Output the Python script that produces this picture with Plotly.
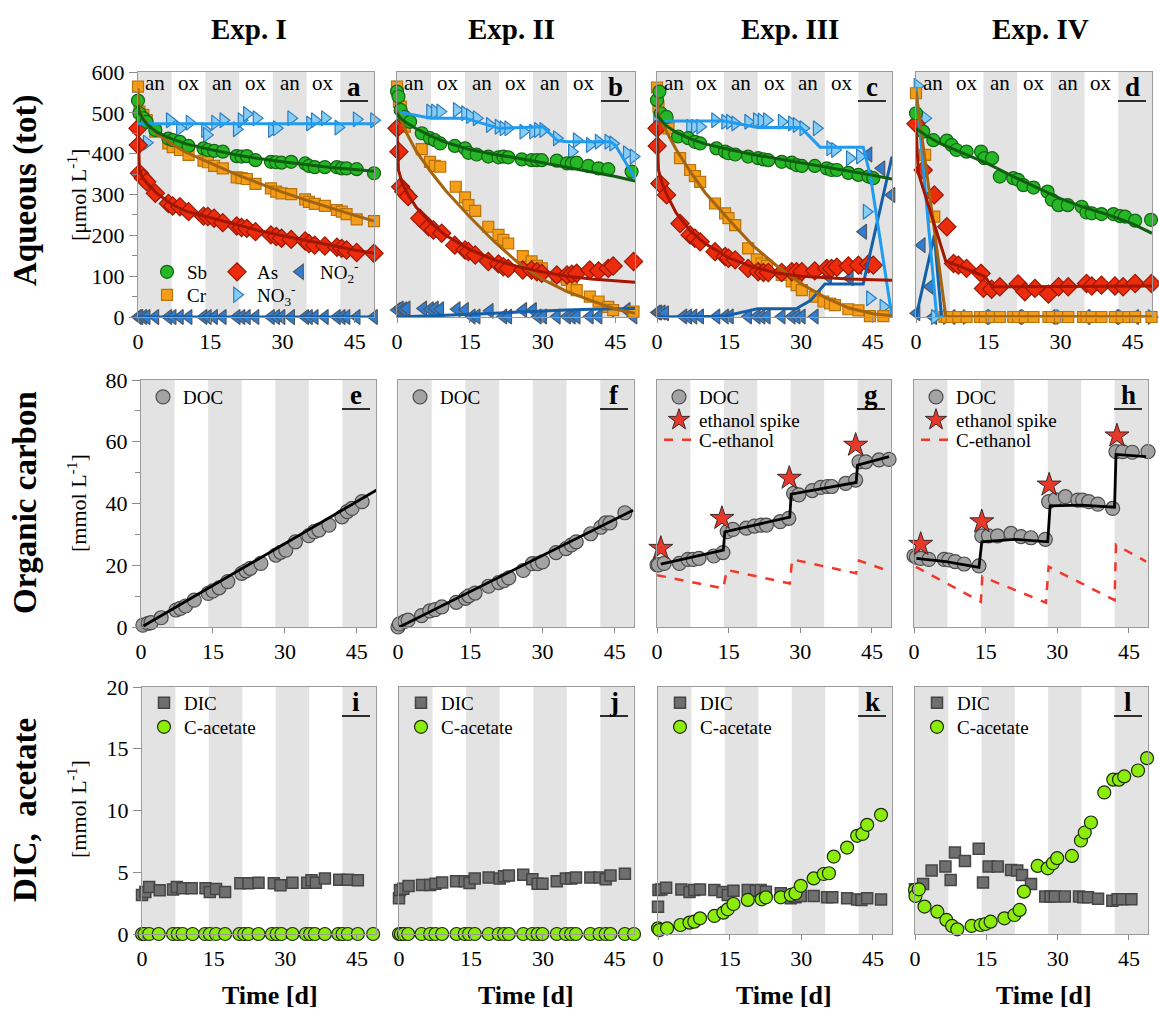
import plotly.graph_objects as go

W, H = 1159, 1011
SERIF = "Liberation Serif, Times New Roman, serif"

# ------------------------------------------------------------------ labels
EXPERIMENTS = ["Exp. I", "Exp. II", "Exp. III", "Exp. IV"]
PANEL_LETTERS = list("abcdefghijkl")
ROW_TITLES = ["Aqueous (tot)", "Organic carbon", "DIC,\u00a0 acetate"]
ROW_UNITS = ["[μmol L<sup>-1</sup>]", "[mmol L<sup>-1</sup>]", "[mmol L<sup>-1</sup>]"]
PHASES = [("an", 0, 7), ("ox", 7, 14), ("an", 14, 21), ("ox", 21, 28),
          ("an", 28, 35), ("ox", 35, 42), ("an", 42, 49)]
X_TICKS = [0, 15, 30, 45]
Y_RANGES = [(0, 600), (0, 80), (0, 20)]
Y_DTICK = [100, 20, 5]

# ------------------------------------------------------------------ Exp I aqueous (a)
t_a = [0, 0.3, 1.1, 1.8, 3.6, 6.3, 7.2, 8.7, 10.5, 13.6, 14.5, 15.8, 17.6, 20.5, 21.5,
       22.6, 24.4, 27.6, 28.7, 29.8, 31.8, 34.7, 35.5, 36.7, 38.8, 41.3, 42.3, 43.3, 45.4, 49]
sb_a = [530, 499, 487, 478, 458, 437, 433, 429, 419, 413, 409, 407, 405, 394, 393,
        394, 384, 380, 379, 378, 380, 376, 370, 367, 367, 367, 364, 364, 362, 352]
cr_a = [564, 503, 495, 482, 454, 425, 416, 409, 397, 383, 379, 370, 364, 342, 340,
        338, 326, 315, 307, 303, 301, 288, 282, 277, 272, 262, 258, 252, 239, 235]
t_as_a = [0, 0.05, 0.3, 1.1, 1.8, 3.6, 6.3, 7.2, 8.7, 10.5, 13.6, 14.5, 15.8, 17.6, 20.5, 21.5,
          22.6, 24.4, 27.6, 28.7, 29.8, 31.8, 34.7, 35.5, 36.7, 38.8, 41.3, 42.3, 43.3, 45.4, 49]
as_a = [462, 421, 352, 340, 331, 303, 278, 272, 270, 258, 247, 246, 242, 231, 223, 219,
        217, 209, 201, 197, 193, 190, 186, 180, 176, 174, 171, 168, 164, 158, 156]
t_no3_a = [0.3, 1.8, 6.6, 8.7, 10.7, 13.9, 14.3, 16, 17.7, 20.5, 21.5, 22.6, 24.6, 27.8, 28.8,
           31.8, 35.7, 36.7, 38.8, 41.6, 45.4, 49]
no3_a = [487, 427, 482, 462, 476, 458, 446, 476, 482, 460, 482, 497, 487, 458, 462,
         487, 474, 482, 487, 464, 484, 482]
no2_a = [0, 0, 0, 0, 0, 0, 0, 0, 0, 0, 0, 0, 0, 0, 0,
         0, 0, 0, 0, 0, 0, 0, 0, 0, 0, 0, 0, 0, 0, 0]
fit_t = [0, 0.3, 1, 2, 4, 7, 10, 15, 20, 25, 30, 35, 40, 45, 49]
sb_fit_a = [520, 500, 485, 470, 452, 436, 424, 410, 398, 388, 380, 373, 366, 361, 357]
cr_fit_a = [560, 505, 488, 472, 449, 424, 403, 377, 351, 328, 306, 286, 267, 249, 235]
as_fit_a = [470, 358, 340, 326, 302, 276, 259, 243, 227, 212, 199, 187, 175, 164, 156]
no3_fit_a_t = [0, 49]
no3_fit_a = [473, 473]
no2_fit_a_t = [0, 49]
no2_fit_a = [0, 0]

# ------------------------------------------------------------------ Exp II aqueous (b)
t_sb_b = [0, 0.3, 0.75, 1.6, 2.7, 5.1, 6.8, 7.8, 8.9, 11.9, 14, 14.7, 16.4, 18.8, 20.9,
          21.9, 22.9, 25.7, 27.7, 28.8, 29.8, 32.9, 35, 36, 37, 39.4, 41.5, 43.5, 48.3]
sb_b = [552, 540, 507, 490, 478, 450, 438, 433, 425, 419, 413, 402, 398, 393, 391,
        393, 391, 386, 384, 384, 384, 383, 376, 376, 378, 370, 364, 362, 356]
t_cr_b = [0, 0.4, 0.8, 1.6, 5.1, 6.8, 7.8, 8.9, 12.1, 14, 14.7, 16.1, 18.8, 20.9, 21.9,
          22.9, 25.9, 27.7, 28.8, 29.8, 32.9, 35, 36, 37, 39.7, 41.5, 43.5, 44.5, 48.7]
cr_b = [564, 527, 515, 466, 411, 380, 370, 368, 319, 293, 274, 260, 221, 201, 189,
        180, 149, 136, 125, 119, 99, 91, 74, 66, 50, 38, 25, 17, 13]
t_as_b = [0, 0.4, 0.75, 1.4, 2.3, 4.7, 6.5, 7.5, 9.2, 11.9, 14, 14.7, 16.1, 18.8, 20.9,
          21.9, 22.9, 25.9, 27.7, 28.8, 29.8, 32.9, 35, 36, 37, 39.7, 41.5, 43.5, 44.5, 48.7]
as_b = [462, 405, 319, 307, 295, 242, 221, 213, 205, 176, 164, 160, 152, 136, 130,
        123, 119, 115, 115, 111, 107, 103, 103, 105, 107, 115, 113, 119, 125, 136]
t_no3_b = [0, 0.6, 6.8, 7.8, 8.9, 12.3, 14, 15, 16.4, 19.1, 20.9, 21.9, 22.9, 26, 28,
           29, 30.1, 32.9, 36, 37, 39.7, 41.5, 43.5, 44.5, 47.3, 48.7]
no3_b = [560, 499, 503, 503, 503, 507, 499, 492, 487, 470, 466, 462, 462, 454, 454,
         458, 458, 438, 405, 433, 421, 429, 429, 425, 401, 393]
t_no2_b = [0, 0.6, 1.3, 2, 5.4, 6.8, 7.8, 8.9, 12.3, 14, 15.4, 16.4, 19.1, 21.9, 22.9,
           26, 28, 29, 30.1, 32.9, 35, 36, 37, 39.7, 41.5, 43.9, 47.3, 48.7]
no2_b = [17, 21, 19, 21, 21, 19, 21, 19, 19, 17, 1, 1, 15, 1, 1,
         17, 17, 1, 1, 1, 1, 1, 1, 1, 1, 19, 17, 1]
sb_fit_b = [500, 492, 484, 475, 461, 443, 428, 410, 398, 389, 378, 367, 355, 344, 333]
cr_fit_b = [505, 497, 478, 450, 405, 355, 310, 245, 185, 132, 92, 62, 40, 19, 9]
as_fit_b = [470, 360, 330, 305, 268, 230, 200, 165, 140, 123, 110, 100, 93, 88, 85]
no2_fit_b = [0, 0.2, 0.5, 1, 2, 3, 4, 6, 9, 12, 15, 17, 19, 20, 21]
no3_fit_b_t = [0, 7, 14, 16.4, 21, 30, 33, 35, 44, 45, 49]
no3_fit_b = [503, 487, 487, 478, 462, 466, 432, 429, 429, 420, 340]

# ------------------------------------------------------------------ Exp III aqueous (c)
t_sb_c = [0, 0.5, 0.8, 2, 4.4, 6.5, 7.9, 9, 12.4, 14.2, 14.9, 16.3, 19, 21.1, 22.2,
          23.2, 26, 28.1, 29.1, 30.2, 32.9, 35.4, 36.4, 37.5, 39.9, 42, 44.1, 45.1, 49.3]
sb_c = [531, 552, 499, 490, 442, 438, 429, 425, 413, 405, 401, 398, 393, 389, 386,
        384, 380, 378, 372, 370, 370, 364, 360, 360, 353, 348, 344, 340, 334]
t_cr_c = [0, 0.3, 1.3, 2.4, 4.8, 6.9, 7.9, 9, 12.1, 14.2, 14.9, 16.3, 19, 20.8, 21.8,
          22.9, 26, 28.1, 29.1, 30.2, 32.9, 34.7, 36.1, 37.1, 39.9, 42, 44.4, 47.2, 49.3]
cr_c = [562, 515, 470, 462, 389, 360, 345, 331, 278, 254, 242, 225, 168, 141, 131,
        125, 103, 87, 78, 66, 50, 38, 33, 29, 19, 16, 2, 2, 1]
t_as_c = [0, 0.05, 0.6, 2, 4.8, 6.9, 7.9, 9, 12.1, 14.2, 14.9, 16.3, 19, 21.1, 22.2,
          23.2, 26, 28.1, 29.1, 30.2, 32.9, 35.4, 36.4, 37.5, 39.9, 42, 44.1, 45.1, 49.3]
as_c = [462, 419, 327, 299, 229, 201, 193, 184, 160, 148, 144, 140, 119, 111, 109,
        109, 109, 111, 111, 111, 113, 119, 119, 122, 125, 127, 130, 127, 130]
t_no3_c = [0, 0.6, 2.4, 6.9, 7.9, 9, 12.1, 14.2, 15.2, 16.3, 19, 20.8, 21.8, 22.9, 26,
           28.1, 29.1, 30.5, 33.3, 36.1, 37.1, 40.2, 42.3, 43.7, 44.4, 47.2, 49.3]
no3_c = [495, 478, 478, 466, 466, 466, 482, 478, 478, 474, 478, 482, 481, 482, 478,
         474, 470, 462, 462, 413, 409, 389, 393, 258, 46, 25, 29]
t_no2_c = [0, 0.3, 1, 1.7, 5.5, 6.5, 7.6, 9, 12.4, 14.2, 15.2, 19, 20.8, 21.8, 22.9,
           26, 28.1, 29.1, 30.2, 32.9, 35.7, 40.2, 42, 43, 44.1, 46.8, 48.9]
no2_c = [11, 11, 11, 9, 1, 1, 1, 1, 1, 1, 1, 1, 1, 1, 1,
         1, 1, 1, 1, 1, 99, 95, 123, 209, 398, 364, 299]
sb_fit_c = [500, 490, 480, 468, 452, 436, 424, 410, 398, 388, 378, 368, 357, 347, 338]
cr_fit_c = [540, 500, 475, 452, 410, 355, 305, 238, 175, 125, 82, 48, 22, 8, 3]
as_fit_c = [470, 360, 330, 300, 255, 210, 180, 145, 122, 108, 100, 96, 93, 91, 90]
no3_fit_c_t = [0, 1, 14, 21, 30, 34, 43, 44.5, 49]
no3_fit_c = [487, 480, 480, 464, 464, 416, 416, 345, 0]
no2_fit_c_t = [0, 14, 21, 29, 32, 35, 43, 49]
no2_fit_c = [0, 2, 20, 20, 40, 81, 81, 393]

# ------------------------------------------------------------------ Exp IV aqueous (d)
t_sb_d = [0, 1.5, 3.6, 6.4, 7.4, 8.4, 10.5, 13.5, 14.2, 15.8, 17.4, 20.2, 21.2, 22.3, 24.4,
          27.3, 28.2, 29.6, 31.5, 34.4, 35.4, 36.5, 38.5, 41, 42.4, 43.4, 45.5, 48.8]
sb_d = [499, 454, 433, 432, 421, 409, 405, 405, 389, 389, 344, 340, 336, 323, 317,
        307, 287, 274, 274, 270, 256, 254, 252, 252, 247, 246, 236, 238]
t_cr_d = [0, 1.9, 3.8, 5.9, 6.4, 7.4, 8.8, 10.5, 13.3, 14.3, 15.7, 17.4, 20.2, 21.2, 22.6,
          24.4, 27.5, 28.2, 29.9, 31.6, 34.7, 35.4, 36.5, 38.5, 41.3, 42.7, 44.1, 45.5, 48.9]
cr_d = [548, 397, 246, 0, 0, 0, 0, 0, 0, 0, 0, 0, 0, 0, 0,
        0, 0, 0, 0, 0, 0, 0, 0, 0, 0, 0, 0, 0, 0]
t_as_d = [0, 1.5, 3.8, 6.4, 7.8, 8.8, 10.5, 13.5, 14, 15.7, 17.4, 21.2, 22.6, 24.7, 27.5,
          29.6, 31.6, 35.4, 36.5, 38.5, 41.3, 43, 45.5, 48.9]
as_d = [473, 360, 299, 221, 131, 127, 119, 107, 70, 68, 74, 81, 62, 70, 56,
        74, 74, 82, 76, 78, 76, 74, 82, 82]
t_no3_d = [0.3, 1.9, 3.9, 6.4, 10.5, 15.7, 22.6, 29.9, 36.5, 42.7, 48.9]
no3_d = [566, 487, 0, 0, 0, 0, 0, 0, 0, 0, 0]
t_no2_d = [0.1, 1.2, 2.9, 3.6, 7.4, 14.3, 21.2, 28.2, 35.4, 41.3, 45.5]
no2_d = [9, 176, 74, 0, 0, 0, 0, 0, 0, 0, 0]
sb_fit_d_t = [0, 2, 5, 10, 15, 20, 25, 30, 35, 40, 45, 49]
sb_fit_d = [462, 445, 425, 400, 375, 345, 318, 290, 268, 250, 228, 205]
cr_fit_d_t = [0, 6.2, 49]
cr_fit_d = [552, 0, 0]
as_fit_d_t = [0, 0.5, 6.2, 8.5, 14.3, 15.8, 49]
as_fit_d = [462, 352, 136, 127, 99, 74, 76]
no3_fit_d_t = [0, 4.3, 49]
no3_fit_d = [564, 0, 0]
no2_fit_d_t = [0, 3.8, 5.3, 49]
no2_fit_d = [0, 200, 0, 0]

# ------------------------------------------------------------------ organic carbon (e-h)
t_doc_e = [0.4, 1.5, 2.1, 4.2, 7.3, 8.2, 9.3, 11.1, 14, 15, 16.3, 18.1, 21, 21.9, 22.8,
           25, 28.1, 29.1, 30.2, 32.2, 35, 36.1, 37.1, 39.2, 41.9, 43, 44, 46.1, 49.2]
doc_e = [0.6, 1.2, 1.4, 3, 5.5, 6, 6.8, 8.7, 10.9, 11.7, 12.7, 14.7, 17.4, 18.2, 19,
         20.6, 23.3, 24.2, 24.9, 27.6, 29.6, 30.9, 31.4, 33, 35.7, 37.4, 38.4, 40.6, 44.6]
doc_fit_e_t = [0.5, 49.2]
doc_fit_e = [0.3, 44.4]

t_doc_f = [0, 0.3, 1.4, 2.1, 4.9, 6.6, 7.7, 9.1, 12.1, 14, 14.7, 16, 18.8, 20.9, 22,
           23, 26, 27.9, 29, 30, 32.8, 34.9, 36, 37, 40, 42.1, 43.1, 44, 47.1, 49.1]
doc_f = [0, 1, 1.8, 2.2, 3.7, 5.2, 5.6, 6.5, 8, 9.3, 10.1, 11, 13.2, 14.4, 15,
         15.9, 18.3, 20.5, 20.5, 21.1, 24.1, 25.4, 26.6, 27.6, 30.2, 32.3, 33.7, 33.7, 37, 38.8]
doc_fit_f_t = [0.3, 48.8]
doc_fit_f = [0, 37.8]

t_doc_g = [0, 0.3, 1.5, 4.7, 6.5, 7.6, 8.8, 11.9, 13.8, 14.7, 15.9, 18.7, 20.4, 21.8, 22.9,
           25.8, 27.6, 28.6, 29.7, 32.5, 34.3, 35.7, 36.6, 39.5, 41.6, 42.3, 43.7, 46.5, 48.6]
doc_g = [20.1, 20.1, 20.6, 20.6, 21.9, 21.9, 22.2, 23, 24.1, 30.9, 31.6, 32, 32.7, 33, 33,
         34.1, 35.2, 43.3, 42.8, 44.2, 45.2, 45.5, 45.5, 46.5, 47.6, 53.5, 53.5, 54.1, 54.3]
spike_g_t = [0.8, 13.6, 27.7, 41.6]
spike_g = [25.5, 35.2, 48.2, 58.9]
doc_fit_g_t = [0.8, 13.9, 14.2, 27.8, 28.1, 41.7, 42.0, 48.6]
doc_fit_g = [20.4, 24.9, 30.8, 35.6, 43.0, 46.8, 52.4, 55.2]
eth_g_t = [0, 13.9, 14.6, 27.8, 28.3, 41.7, 42.3, 48.6]
eth_g = [16.8, 12.5, 18.5, 14.1, 21.9, 17.4, 21.5, 18.1]

t_doc_h = [0, 0.5, 1.4, 3.1, 6.3, 7.3, 8.6, 10.5, 13.6, 14.2, 15.6, 17.5, 20.3, 22.4,
           24.5, 27.5, 28.2, 29.6, 31.7, 34.3, 35.3, 36.6, 38.5, 41.6, 42.3, 43.7, 45.7, 49]
doc_h = [23, 22.6, 22.2, 21.9, 21.9, 21.7, 21.2, 20.4, 19.8, 29.5, 29.5, 29.5, 30.3, 29.3,
         28.9, 28.4, 40.6, 41.3, 42.2, 41.1, 41.1, 40.6, 39.8, 38.4, 56.8, 56.8, 56.6, 56.8]
spike_h_t = [1.4, 14.2, 28.3, 42.5]
spike_h = [26.8, 34.1, 46, 61.9]
doc_fit_h_t = [0.5, 6.7, 13.6, 14.2, 21, 28, 28.5, 35, 42, 42.3, 48.6]
doc_fit_h = [22.2, 21.2, 19.3, 27.6, 28.4, 27.6, 39.2, 39.5, 38.8, 55.9, 55.2]
eth_h_t = [0.4, 14, 14.3, 27.6, 28.2, 42, 42.3, 48.6]
eth_h = [19.5, 8.2, 16.3, 7.9, 19.5, 8.7, 26.6, 21.2]

# ------------------------------------------------------------------ DIC / acetate (i-l)
t_dic_i = [0, 0.7, 1.5, 3.7, 6.5, 7.3, 8.5, 10.4, 13.3, 14.2, 15.5, 17.4, 20.6, 22.3, 24.4,
           27.6, 29, 31.5, 34.6, 35.5, 36.4, 38.3, 41.3, 43.1, 45.2]
dic_i = [3.15, 3.4, 3.8, 3.55, 3.6, 3.8, 3.7, 3.7, 3.7, 3.4, 3.65, 3.4, 4.1, 4.1, 4.15,
         4.1, 3.95, 4.15, 4.15, 4.35, 4.15, 4.5, 4.4, 4.4, 4.35]
t_ac_i = [0, 0.5, 1.5, 3.5, 6.5, 7.5, 8.5, 10.6, 13.2, 14.2, 15.5, 17.4, 20.4, 21.4, 22.3,
          24.4, 27.2, 28.2, 29.2, 31.5, 34.3, 35.2, 36.2, 38.3, 41.1, 42, 43.1, 45.2, 48.4]
ac_i = [0, 0, 0, 0, 0, 0, 0, 0, 0, 0, 0, 0, 0, 0, 0,
        0, 0, 0, 0, 0, 0, 0, 0, 0, 0, 0, 0, 0, 0]

t_dic_j = [0, 0.2, 0.9, 2, 4.8, 6.5, 7.6, 9, 11.9, 13.7, 14.7, 15.8, 18.7, 21, 21.9,
           22.9, 25.9, 27.8, 28.9, 29.9, 32.9, 34.8, 35.9, 36.9, 39.9, 41.8, 43.1, 44.1, 47.1]
dic_j = [2.9, 3.57, 3.66, 3.88, 3.97, 3.97, 4.06, 4.18, 4.27, 4.27, 4.12, 4.49, 4.58, 4.49, 4.67,
         4.73, 4.79, 4.43, 4.06, 4.06, 4.27, 4.49, 4.49, 4.58, 4.58, 4.58, 4.43, 4.73, 4.88]
t_ac_j = [0, 0.4, 1, 1.9, 4.7, 6.5, 7.6, 9, 12, 13.7, 14.6, 15.8, 18.7, 20.8, 21.9,
          22.9, 25.9, 27.8, 28.9, 29.9, 32.9, 34.8, 35.9, 36.9, 39.9, 41.8, 43.1, 44.1, 47.1, 49]
ac_j = [0, 0, 0, 0, 0, 0, 0, 0, 0, 0, 0, 0, 0, 0, 0,
        0, 0, 0, 0, 0, 0, 0, 0, 0, 0, 0, 0, 0, 0, 0]

t_dic_k = [0, 0.1, 0.7, 1.7, 4.9, 6.6, 7.6, 8.8, 11.8, 13.5, 14.6, 15.8, 18.8, 20.5, 21.5,
           22.6, 25.7, 27.8, 28.8, 29.9, 32.6, 35.4, 36.5, 39.6, 41.7, 42.6, 43.8, 46.7]
dic_k = [2.2, 3.57, 3.6, 3.75, 3.6, 3.4, 3.57, 3.6, 3.57, 3.4, 3.16, 3.5, 3.57, 3.5, 3.57,
         3.43, 3.3, 2.9, 2.97, 3.08, 3.08, 2.97, 2.97, 2.9, 2.8, 2.76, 2.9, 2.8]
t_ac_k = [0, 0.3, 1.9, 4.7, 6.6, 7.6, 8.8, 11.8, 13.7, 14.6, 15.8, 18.8, 21.7, 22.6, 25.7,
          27.8, 28.8, 29.9, 32.6, 34.7, 35.8, 36.8, 39.6, 41.7, 42.8, 43.8, 46.7]
ac_k = [0.46, 0.32, 0.46, 0.73, 0.92, 1, 1.27, 1.46, 1.73, 2, 2.43, 2.76, 2.81, 2.97, 2.97,
        3.16, 3.3, 3.9, 4.5, 4.86, 4.92, 6.27, 7, 7.95, 8.1, 8.84, 9.65]

t_dic_l = [0, 1.7, 3.5, 6.4, 7.5, 8.4, 10.5, 13.4, 14.3, 15.5, 17.4, 20.2, 21.5, 22.5,
           24.4, 27.4, 28.5, 29.4, 31.5, 34.5, 35.4, 36.4, 38.5, 41.5, 42.6, 43.6, 45.5]
dic_l = [3.62, 4.05, 5.14, 5.46, 4.38, 6.6, 5.92, 6.9, 4.16, 5.46, 5.46, 5.19, 5.14, 4.78,
         4.05, 3.03, 3.03, 3.03, 3.03, 3.03, 2.97, 2.97, 2.86, 2.7, 2.81, 2.81, 2.81]
t_ac_l = [0, 0.1, 0.8, 2, 4.7, 6.6, 7.8, 8.9, 11.9, 13.8, 14.8, 15.9, 18.8, 20.9, 22,
          22.9, 25.8, 27.9, 29, 29.9, 33, 34.9, 35.7, 37, 39.8, 41.7, 42.9, 44, 46.9, 48.8]
ac_l = [3.57, 3.08, 3.62, 2.22, 1.81, 1.14, 0.65, 0.38, 0.65, 0.73, 0.81, 1, 1.27, 1.54, 1.95,
        3.43, 5.51, 5.32, 5.73, 6.14, 6.32, 7.57, 8.22, 9.03, 11.46, 12.5, 12.5, 12.76, 13.24, 14.24]

# ------------------------------------------------------------------ styles
STY = {
    "Sb": dict(symbol="circle", size=13, color="#25b725", edge="#146414", fit="#0f5f10"),
    "Cr": dict(symbol="square", size=11, color="#f49d18", edge="#b8720c", fit="#a5640f"),
    "As": dict(symbol="diamond", size=14, color="#ec2c0d", edge="#9a1806", fit="#a31600"),
    "NO3": dict(symbol="triangle-right", size=13, color="#86cdf5", edge="#2e7cc0", fit="#1f9bf0"),
    "NO2": dict(symbol="triangle-left", size=13, color="#2c7fd4", edge="#4f5763", fit="#145fa8"),
}
LEGEND_NAMES = {"Sb": "Sb", "Cr": "Cr", "As": "As",
                "NO3": "NO<sub>3</sub><sup>-</sup>", "NO2": "NO<sub>2</sub><sup>-</sup>"}

# panel geometry in pixels
ROW_Y = [(72, 317), (380, 627), (687, 934)]
COL_X = [[(138, 374), (397, 635), (657, 892), (916, 1152)],
         [(141, 376), (398, 634), (657, 891), (914, 1148)],
         [(142, 376), (399, 634), (658, 892), (915, 1148)]]

fig = go.Figure()
legends = {}


def axes(n):
    return ("x" if n == 1 else f"x{n}"), ("y" if n == 1 else f"y{n}")


def new_legend(px, py):
    k = len(legends) + 1
    key = "legend" if k == 1 else f"legend{k}"
    legends[key] = dict(x=(px - 20) / W, y=1 - py / H, xanchor="left", yanchor="middle",
                        bgcolor="rgba(0,0,0,0)", borderwidth=0,
                        font=dict(family=SERIF, size=19, color="black"))
    return key


def pts(n, x, y, symbol, size, color, edge, lw=1.2, name="", legend=None):
    xa, ya = axes(n)
    kw = dict(showlegend=False)
    if legend:
        kw = dict(showlegend=True, legend=legend)
    fig.add_trace(go.Scatter(x=x, y=y, mode="markers", xaxis=xa, yaxis=ya, name=name,
                             cliponaxis=False, hoverinfo="x+y",
                             marker=dict(symbol=symbol, size=size, color=color,
                                         line=dict(color=edge, width=lw)), **kw))


def curve(n, x, y, color, width=3, dash="solid", name="", legend=None):
    xa, ya = axes(n)
    kw = dict(showlegend=False)
    if legend:
        kw = dict(showlegend=True, legend=legend)
    fig.add_trace(go.Scatter(x=x, y=y, mode="lines", xaxis=xa, yaxis=ya, name=name,
                             line=dict(color=color, width=width, dash=dash), **kw))


def species_pts(n, sp, x, y, legend=None):
    s = STY[sp]
    pts(n, x, y, s["symbol"], s["size"], s["color"], s["edge"],
        name=LEGEND_NAMES[sp], legend=legend)


# ---- row 1: aqueous ----
aq = [
    dict(NO2=(t_a, no2_a), NO3=(t_no3_a, no3_a), Cr=(t_a, cr_a), As=(t_as_a, as_a), Sb=(t_a, sb_a),
         fits=dict(Sb=(fit_t, sb_fit_a), Cr=(fit_t, cr_fit_a), As=(fit_t, as_fit_a),
                   NO3=(no3_fit_a_t, no3_fit_a), NO2=(no2_fit_a_t, no2_fit_a))),
    dict(NO2=(t_no2_b, no2_b), NO3=(t_no3_b, no3_b), Cr=(t_cr_b, cr_b), As=(t_as_b, as_b), Sb=(t_sb_b, sb_b),
         fits=dict(Sb=(fit_t, sb_fit_b), Cr=(fit_t, cr_fit_b), As=(fit_t, as_fit_b),
                   NO3=(no3_fit_b_t, no3_fit_b), NO2=(fit_t, no2_fit_b))),
    dict(NO2=(t_no2_c, no2_c), NO3=(t_no3_c, no3_c), Cr=(t_cr_c, cr_c), As=(t_as_c, as_c), Sb=(t_sb_c, sb_c),
         fits=dict(Sb=(fit_t, sb_fit_c), Cr=(fit_t, cr_fit_c), As=(fit_t, as_fit_c),
                   NO3=(no3_fit_c_t, no3_fit_c), NO2=(no2_fit_c_t, no2_fit_c))),
    dict(NO2=(t_no2_d, no2_d), NO3=(t_no3_d, no3_d), Cr=(t_cr_d, cr_d), As=(t_as_d, as_d), Sb=(t_sb_d, sb_d),
         fits=dict(Sb=(sb_fit_d_t, sb_fit_d), Cr=(cr_fit_d_t, cr_fit_d), As=(as_fit_d_t, as_fit_d),
                   NO3=(no3_fit_d_t, no3_fit_d), NO2=(no2_fit_d_t, no2_fit_d))),
]
legend_pos_a = {"Sb": (167, 272), "As": (237, 272), "NO2": (300, 272),
                "Cr": (167, 295), "NO3": (237, 295)}
for c, p in enumerate(aq):
    n = c + 1
    for sp in ["NO2", "NO3", "Cr", "As", "Sb"]:
        lg = new_legend(*legend_pos_a[sp]) if c == 0 else None
        species_pts(n, sp, p[sp][0], p[sp][1], legend=lg)
    for sp in ["NO2", "NO3", "Cr", "As", "Sb"]:
        fx, fy = p["fits"][sp]
        curve(n, fx, fy, STY[sp]["fit"], width=3)

# ---- row 2: organic carbon ----
DOC_STY = dict(symbol="circle", size=14, color="#a3a3a3", edge="#4d4d4d")
STAR_STY = dict(symbol="star", size=18, color="#e8382b", edge="#3a2a2a")
oc = [
    dict(doc=(t_doc_e, doc_e), fit=(doc_fit_e_t, doc_fit_e)),
    dict(doc=(t_doc_f, doc_f), fit=(doc_fit_f_t, doc_fit_f)),
    dict(doc=(t_doc_g, doc_g), fit=(doc_fit_g_t, doc_fit_g), spike=(spike_g_t, spike_g), eth=(eth_g_t, eth_g)),
    dict(doc=(t_doc_h, doc_h), fit=(doc_fit_h_t, doc_fit_h), spike=(spike_h_t, spike_h), eth=(eth_h_t, eth_h)),
]
for c, p in enumerate(oc):
    n = 4 + c + 1
    x0 = COL_X[1][c][0]
    if "eth" in p:
        curve(n, p["eth"][0], p["eth"][1], "#f0392b", width=2.5, dash="dash", name="C-ethanol",
              legend=new_legend(x0 + 22, 440))
    pts(n, p["doc"][0], p["doc"][1], DOC_STY["symbol"], DOC_STY["size"], DOC_STY["color"],
        DOC_STY["edge"], name="DOC", legend=new_legend(x0 + 22, 397))
    curve(n, p["fit"][0], p["fit"][1], "black", width=2.8)
    if "spike" in p:
        pts(n, p["spike"][0], p["spike"][1], STAR_STY["symbol"], STAR_STY["size"], STAR_STY["color"],
            STAR_STY["edge"], lw=1, name="ethanol spike", legend=new_legend(x0 + 22, 420))

# ---- row 3: DIC / acetate ----
ia = [((t_dic_i, dic_i), (t_ac_i, ac_i)), ((t_dic_j, dic_j), (t_ac_j, ac_j)),
      ((t_dic_k, dic_k), (t_ac_k, ac_k)), ((t_dic_l, dic_l), (t_ac_l, ac_l))]
for c, (dic, ac) in enumerate(ia):
    n = 8 + c + 1
    x0 = COL_X[2][c][0]
    pts(n, dic[0], dic[1], "square", 11, "#6f6f6f", "#454545", lw=1.5, name="DIC",
        legend=new_legend(x0 + 22, 703))
    pts(n, ac[0], ac[1], "circle", 13, "#8cec0c", "#1f2a10", lw=1.2, name="C-acetate",
        legend=new_legend(x0 + 22, 727))

# ------------------------------------------------------------------ layout
layout = dict(width=W, height=H, margin=dict(l=0, r=0, t=0, b=0, autoexpand=False),
              paper_bgcolor="white", plot_bgcolor="white",
              font=dict(family=SERIF, color="black"), hovermode="closest")
shapes, annotations = [], []


def note(text, px, py, size, angle=0):
    annotations.append(dict(text=text, xref="paper", yref="paper", x=px / W, y=1 - py / H,
                            xanchor="center", yanchor="middle", showarrow=False, textangle=angle,
                            font=dict(family=SERIF, size=size, color="black")))


for r in range(3):
    y0, y1 = ROW_Y[r]
    for c in range(4):
        n = r * 4 + c + 1
        xa, ya = axes(n)
        xk = "xaxis" if n == 1 else f"xaxis{n}"
        yk = "yaxis" if n == 1 else f"yaxis{n}"
        px0, px1 = COL_X[r][c]
        layout[xk] = dict(domain=[px0 / W, px1 / W], range=[0, 49], anchor=ya,
                          tickvals=X_TICKS, ticks="outside", ticklen=5, tickcolor="#8a8a8a",
                          showline=True, linecolor="#9a9a9a", linewidth=1, mirror=True,
                          showgrid=False, zeroline=False,
                          tickfont=dict(family=SERIF, size=22, color="black"))
        yax = dict(domain=[1 - y1 / H, 1 - y0 / H], range=list(Y_RANGES[r]), anchor=xa,
                   showline=True, linecolor="#9a9a9a", linewidth=1, mirror=True,
                   showgrid=False, zeroline=False)
        if c == 0:
            yax.update(dtick=Y_DTICK[r], tick0=0, ticks="outside", ticklen=8, tickcolor="#8a8a8a",
                       showticklabels=True,
                       tickfont=dict(family=SERIF, size=22, color="black"))
            if r < 2:
                yax["minor"] = dict(dtick=Y_DTICK[r] / 2, ticks="outside", ticklen=5,
                                    tickcolor="#8a8a8a")
        else:
            yax.update(showticklabels=False, ticks="")
        layout[yk] = yax

        # shaded anoxic phases
        for lab, s, e in PHASES:
            if lab == "an":
                shapes.append(dict(type="rect", xref=xa, yref=f"{ya} domain", x0=s, x1=e, y0=0, y1=1,
                                   fillcolor="#e3e3e3", line=dict(width=0), layer="below"))
        if r == 0:
            for lab, s, e in PHASES[:6]:
                annotations.append(dict(text=lab, xref=xa, yref=f"{ya} domain", x=(s + e) / 2,
                                        y=1 - 11 / (y1 - y0), showarrow=False,
                                        xanchor="center", yanchor="middle",
                                        font=dict(family=SERIF, size=21, color="black")))
        # panel letter with underline
        note(f"<b>{PANEL_LETTERS[n - 1]}</b>", px1 - 20, y0 + 15, 27)
        shapes.append(dict(type="line", xref="paper", yref="paper", x0=(px1 - 34) / W, x1=(px1 - 6) / W,
                           y0=1 - (y0 + 29) / H, y1=1 - (y0 + 29) / H,
                           line=dict(color="black", width=1.6)))

# column headers and x titles
exp_cx = [249, 511, 790, 1040]
time_cx = [270, 526, 784, 1044]
for c in range(4):
    note(f"<b>{EXPERIMENTS[c]}</b>", exp_cx[c], 29, 29)
    note("<b>Time [d]</b>", time_cx[c], 995, 26)

row_cy = [190, 503, 810]
unit_cy = [195, 503, 809]
for r in range(3):
    note(f"<b>{ROW_TITLES[r]}</b>", 25, row_cy[r], 33, angle=-90)
    note(ROW_UNITS[r], 77, unit_cy[r], 22, angle=-90)

layout["shapes"] = shapes
layout["annotations"] = annotations
layout.update(legends)
fig.update_layout(**layout)
fig.write_html("out.html")
